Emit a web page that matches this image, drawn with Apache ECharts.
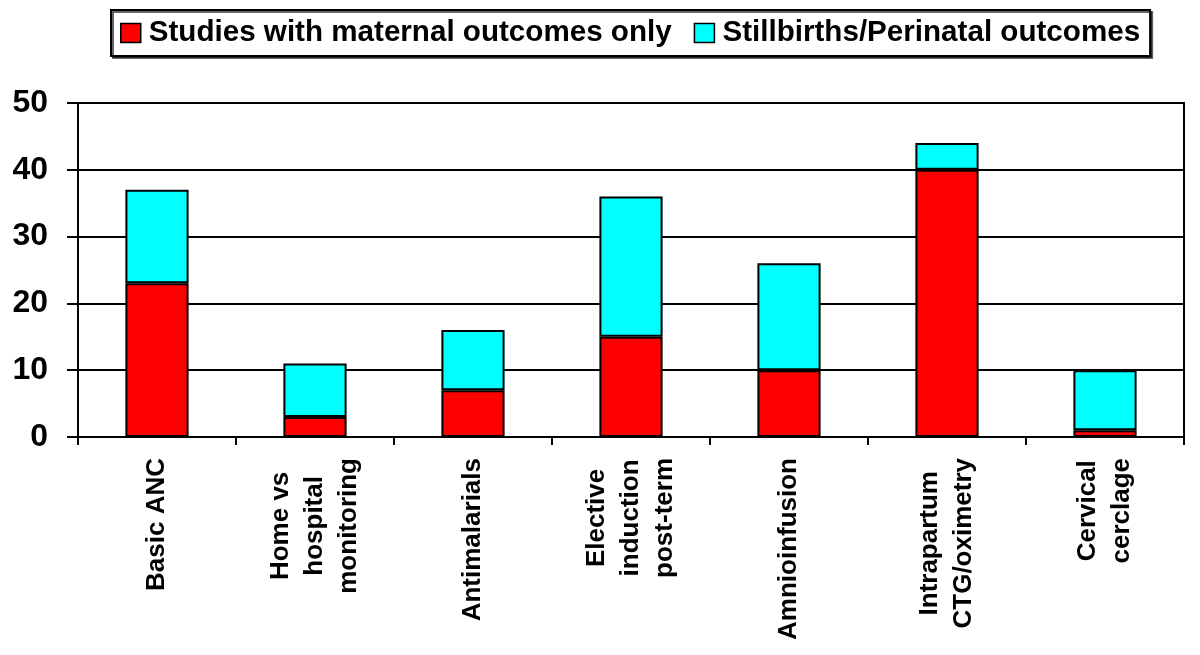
<!DOCTYPE html>
<html>
<head>
<meta charset="utf-8">
<script src="https://cdn.jsdelivr.net/npm/echarts@6/dist/echarts.min.js"></script>
<style>
html,body{margin:0;padding:0;background:#fff;}
#chart{width:1200px;height:655px;}
</style>
</head>
<body>
<div id="chart"></div>
<script>
const categories = [
  "Basic ANC",
  "Home vs\nhospital\nmonitoring",
  "Antimalarials",
  "Elective\ninduction\npost-term",
  "Amnioinfusion",
  "Intrapartum\nCTG/oximetry",
  "Cervical\ncerclage"
];
const maternalOnly = [23, 3, 7, 15, 10, 40, 1];
const stillbirthPerinatal = [14, 8, 9, 21, 16, 4, 9];
const seriesNames = ["Studies with maternal outcomes only", "Stillbirths/Perinatal outcomes"];
const yTicks = { min: 0, max: 50, interval: 10 };

const FONT = "Liberation Sans, Arial, sans-serif";
const chart = echarts.init(document.getElementById('chart'));
chart.setOption({
  animation: false,
  backgroundColor: '#fff',
  legend: {
    left: 111,
    top: 10,
    padding: [8, 10, 8, 9],
    borderColor: '#000',
    borderWidth: 2,
    backgroundColor: '#fff',
    shadowColor: 'rgba(0,0,0,0.6)',
    shadowOffsetX: 2,
    shadowOffsetY: 2,
    itemWidth: 20,
    itemHeight: 19,
    itemGap: 22,
    icon: 'rect',
    itemStyle: { borderColor: '#000', borderWidth: 1.5 },
    textStyle: { fontFamily: FONT, fontWeight: 'bold', fontSize: 29.6, color: '#000', padding: [0, 0, 0, 3] },
    data: seriesNames
  },
  grid: {
    left: 78, right: 16, top: 103, bottom: 218,
    show: true, borderColor: '#000', borderWidth: 2
  },
  xAxis: {
    type: 'category',
    data: categories,
    axisLine: { show: true, lineStyle: { color: '#000', width: 2 } },
    axisTick: { show: true, alignWithLabel: false, length: 8, lineStyle: { color: '#000', width: 2 } },
    axisLabel: {
      rotate: 90, interval: 0, margin: 21,
      fontFamily: FONT, fontWeight: 'bold', fontSize: 26, color: '#000', lineHeight: 34,
      formatter: function (v) {
        return v.split('\n').map(function (s) { return '{c|' + s + '}'; }).join('\n');
      },
      rich: {
        c: { align: 'center', fontFamily: FONT, fontWeight: 'bold', fontSize: 26, color: '#000', lineHeight: 34 }
      }
    }
  },
  yAxis: {
    type: 'value',
    min: yTicks.min, max: yTicks.max, interval: yTicks.interval,
    axisLine: { show: true, lineStyle: { color: '#000', width: 2 } },
    axisTick: { show: true, length: 11, lineStyle: { color: '#000', width: 2 } },
    splitLine: { show: true, lineStyle: { color: '#000', width: 2 } },
    axisLabel: { margin: 30, fontFamily: FONT, fontWeight: 'bold', fontSize: 32, color: '#000' }
  },
  series: [
    {
      name: seriesNames[0], type: 'bar', stack: 'total', data: maternalOnly,
      barWidth: '40%',
      itemStyle: { color: '#FF0000', borderColor: '#000', borderWidth: 2 }
    },
    {
      name: seriesNames[1], type: 'bar', stack: 'total', data: stillbirthPerinatal,
      barWidth: '40%',
      itemStyle: { color: '#00FFFF', borderColor: '#000', borderWidth: 2 }
    }
  ]
});
</script>
</body>
</html>
